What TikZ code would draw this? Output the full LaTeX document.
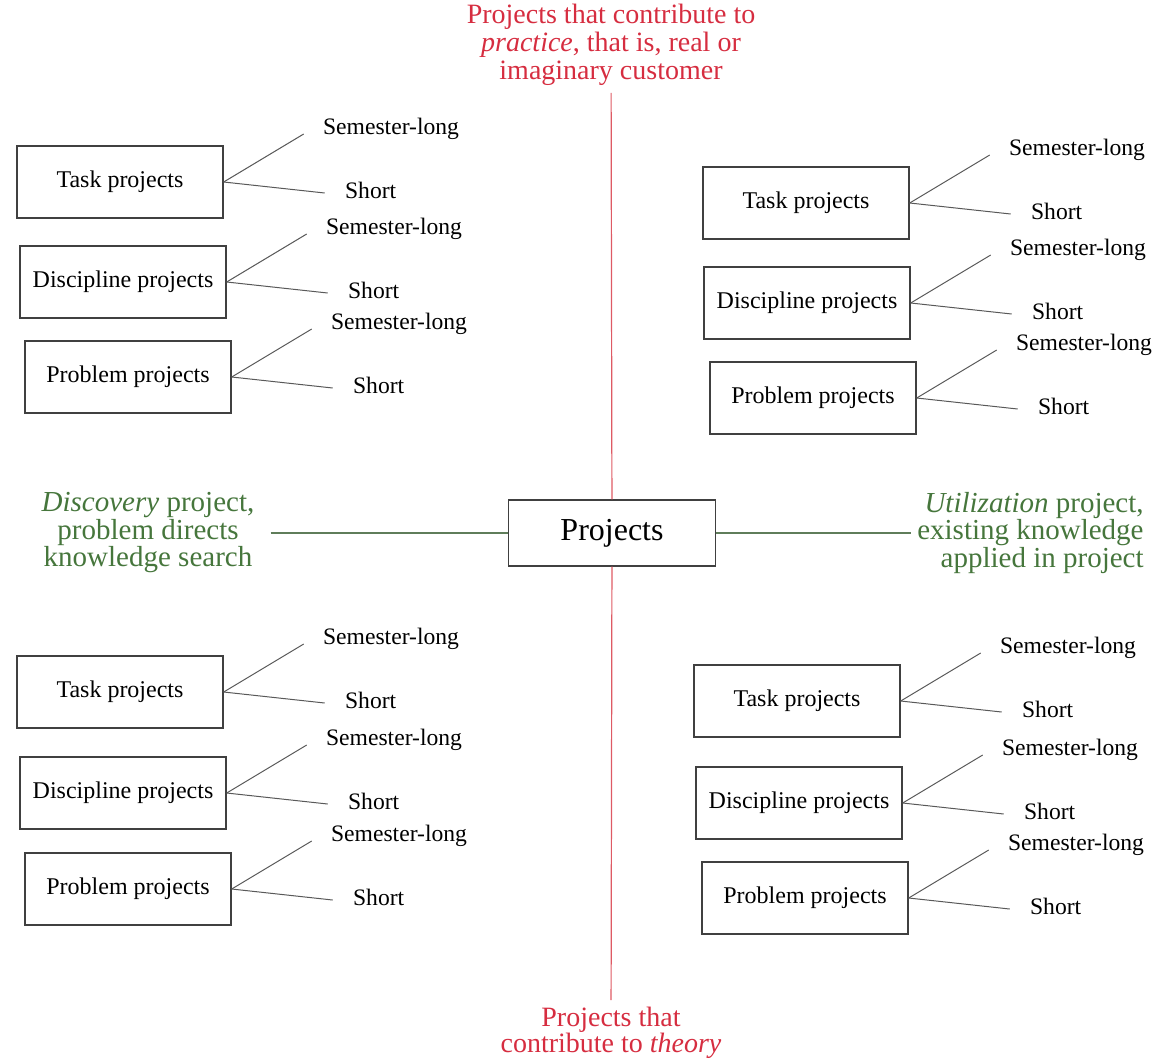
\documentclass[tikz,border=0pt]{standalone}
\usepackage{fontspec}
\setmainfont{Liberation Serif}
\usetikzlibrary{calc}
\definecolor{practice}{RGB}{214,45,64}
\definecolor{axisred}{RGB}{222,90,100}
\definecolor{search}{RGB}{70,118,60}
\definecolor{searchline}{RGB}{95,125,90}

% one kind of project with its two durations
\def\kind#1#2#3#4{\node[kindbox] (#1) at (#2, #3) {#4};
    \node[span, anchor=west] (#1-long) at ($(#1.east) + (97, -53)$) {Semester-long};
    \node[span, anchor=west] (#1-short) at ($(#1.east) + (119, 8)$) {Short};
    \draw[branch] (#1.east) -- ($(#1-long.west) + (-17, 5)$);
    \draw[branch] (#1.east) -- ($(#1-short.west) + (-18, 3)$);}

\begin{document}
\begin{tikzpicture}[x=0.5pt, y=-0.5pt,
    kindbox/.style={draw=black!75, line width=0.7pt, minimum width=103pt, minimum height=36pt,
        font=\fontsize{12}{13}\selectfont},
    span/.style={inner sep=1pt, font=\fontsize{11.8}{13}\selectfont},
    branch/.style={draw=black!65, line width=0.5pt},
    hubbox/.style={draw=black!75, line width=0.7pt, minimum width=103.5pt, minimum height=33pt,
        font=\fontsize{16}{18}\selectfont},
    aim/.style={text=practice, align=center, font=\fontsize{14}{14}\selectfont},
    way/.style={text=search, inner sep=3pt, font=\fontsize{14.5}{13.75}\selectfont},
    axis/.style={draw=axisred, line width=0.6pt},
    wayline/.style={draw=searchline, line width=0.6pt}]
    \useasboundingbox (0,0) rectangle (1154,1061);

    \node[hubbox] (hub) at (612, 533) {Projects};
    \node[aim] (practice) at (611, 45) {Projects that contribute to\\ \textit{practice}, that is, real or\\ imaginary customer};
    \node[aim, font=\fontsize{14}{13}\selectfont] (theory) at (611, 1033) {Projects that\\ contribute to \textit{theory}};
    \node[way, align=center] (discovery) at (148, 533) {\textit{Discovery} project,\\ problem directs\\ knowledge search};
    \node[way, align=right, anchor=east] (utilization) at (1150, 533) {\textit{Utilization} project,\\ existing knowledge\\ applied in project};

    \draw[axis] (practice) -- (hub);
    \draw[axis] (hub) -- (theory);
    \draw[wayline, shorten <=5pt] (discovery) -- (hub);
    \draw[wayline] (hub) -- (utilization);

    % upper left
    \kind{ul-task}{120}{182}{Task projects}
    \kind{ul-disc}{123}{282}{Discipline projects}
    \kind{ul-prob}{128}{377}{Problem projects}
    % upper right
    \kind{ur-task}{806}{203}{Task projects}
    \kind{ur-disc}{807}{303}{Discipline projects}
    \kind{ur-prob}{813}{398}{Problem projects}
    % lower left
    \kind{ll-task}{120}{692}{Task projects}
    \kind{ll-disc}{123}{793}{Discipline projects}
    \kind{ll-prob}{128}{889}{Problem projects}
    % lower right
    \kind{lr-task}{797}{701}{Task projects}
    \kind{lr-disc}{799}{803}{Discipline projects}
    \kind{lr-prob}{805}{898}{Problem projects}
\end{tikzpicture}
\end{document}
